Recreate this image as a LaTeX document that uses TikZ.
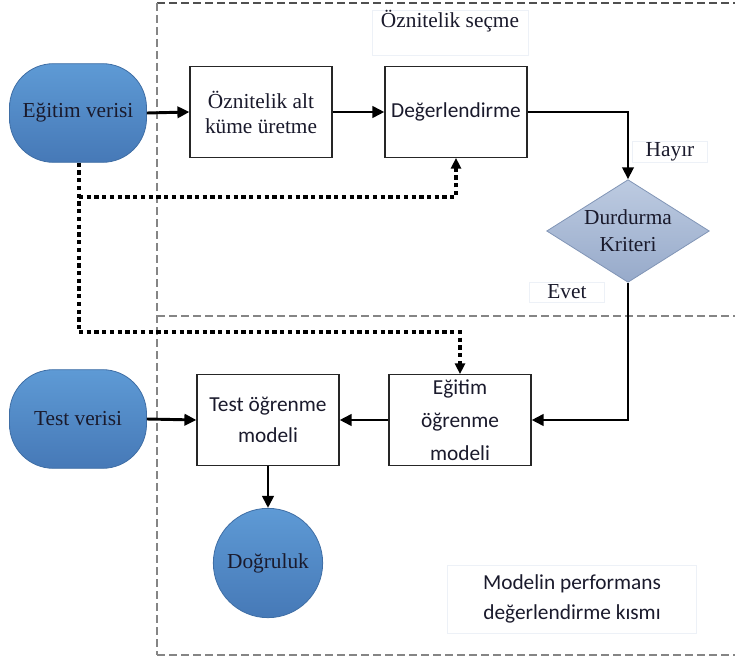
\documentclass[tikz,border=0pt]{standalone}
\usepackage{fontspec}
\setmainfont{Liberation Serif}
\newfontfamily\calfont{Carlito}
\newfontfamily\timesfont{Liberation Serif}
\usetikzlibrary{arrows.meta,shapes.geometric,shadows}
\definecolor{frameGray}{HTML}{858585}
\definecolor{frameDark}{HTML}{505050}
\definecolor{dataTop}{HTML}{5E9AD5}
\definecolor{dataBot}{HTML}{4679B7}
\definecolor{dataLine}{HTML}{3F6EA5}
\definecolor{diaTop}{HTML}{BDCBE1}
\definecolor{diaBot}{HTML}{97AACA}
\definecolor{diaLine}{HTML}{8195B6}
\definecolor{txt}{HTML}{1A1A2C}
\definecolor{capEdge}{HTML}{EDF1F7}
\tikzset{
  frame/.style={draw=frameGray, line width=1.2pt, dash pattern=on 6pt off 3pt},
  databox/.style={draw=dataLine, line width=0.6pt, rounded corners=33pt,
    top color=dataTop, bottom color=dataBot, minimum width=102.75pt,
    minimum height=74pt, text=txt},
  procbox/.style={draw=black!85, line width=0.9pt, fill=white,
    minimum width=106.5pt, minimum height=68pt, align=center, text=txt},
  serif/.style={font=\timesfont\fontsize{16}{19}\selectfont},
  sans/.style={font=\calfont\fontsize{16}{23.5}\selectfont},
  labelbox/.style={fill=white, draw=capEdge, line width=0.4pt,
    drop shadow={shadow xshift=0.5pt, shadow yshift=-0.5pt,
    opacity=0.07, fill=blue!40!gray}, text=txt, align=center},
  flow/.style={line width=2.2pt, -{Triangle[length=9pt,width=8.5pt]}},
  dotflow/.style={line width=2.4pt, dash pattern=on 3.2pt off 2.6pt,
    -{Triangle[length=8pt,width=7.5pt]}},
  dotline/.style={line width=2.4pt, dash pattern=on 3.2pt off 2.6pt},
}
\begin{document}
\begin{tikzpicture}[x=0.75pt,y=-0.75pt]
\useasboundingbox (0,0) rectangle (735,663);

% dashed section frames
\draw[frame, draw=frameDark] (157,3) -- (735,3);
\draw[frame] (157,3) -- (157,655);
\draw[frame] (157,316) -- (735,316);
\draw[frame] (157,655) -- (735,655);

% section captions
\node[labelbox, serif, anchor=north, minimum width=117pt, text height=11pt,
  text depth=19pt, inner ysep=2pt] (secCap) at (450,10) {Öznitelik seçme};
\node[labelbox, font=\calfont\fontsize{16}{22.5}\selectfont,
  minimum width=187pt, minimum height=51pt] (perfCap) at (572,599)
  {Modelin performans\\değerlendirme kısmı};

% data sources and result
\node[databox, serif] (train) at (78,113) {Eğitim verisi};
\node[databox, serif] (test) at (78,419) {Test verisi};
\node[circle, draw=dataLine, line width=0.6pt, top color=dataTop, bottom color=dataBot,
  minimum size=82pt, inner sep=0pt, serif, text=txt] (acc) at (268,563) {Doğruluk};

% process boxes
\node[procbox, font=\timesfont\fontsize{16}{18.75}\selectfont] (subset) at (261,112) {Öznitelik alt\\küme üretme};
\node[procbox, sans] (evalb) at (456,112) {Değerlendirme};
\node[procbox, font=\calfont\fontsize{16}{24.75}\selectfont] (trainModel) at (460,420) {Eğitim\\öğrenme\\modeli};
\node[procbox, sans] (testModel) at (268,420) {Test öğrenme\\modeli};

% decision
\node[diamond, draw=diaLine, line width=0.6pt, top color=diaTop, bottom color=diaBot,
  minimum width=122pt, minimum height=77pt, aspect=1.6, inner sep=0pt,
  align=center, font=\timesfont\fontsize{16}{20}\selectfont, text=txt] (stop) at (628,231) {Durdurma\\Kriteri};

% branch labels
\node[labelbox, serif, minimum width=56pt, minimum height=15pt, inner ysep=1pt] (noLbl) at (670,152) {Hayır};
\node[labelbox, serif, minimum width=56pt, minimum height=15pt, inner ysep=1pt] (yesLbl) at (567,292) {Evet};

% solid connectors
\draw[flow] (train.east) -- (subset.west);
\draw[flow] (subset.east) -- (evalb.west);
\draw[flow] (evalb.east) -| (stop.north);
\draw[flow] (stop.south) |- (trainModel.east);
\draw[flow] (trainModel.west) -- (testModel.east);
\draw[flow] (test.east) -- (testModel.west);
\draw[flow] (testModel.south) -- (acc.north);

% dotted data paths
\coordinate (tap) at (79,197);
\coordinate (corner) at (79,332);
\draw[dotline] (train.south -| tap) -- (corner);
\draw[dotflow] (tap) -- (evalb.south |- tap) -- (evalb.south);
\draw[dotflow] (corner) -- (trainModel.north |- corner) -- (trainModel.north);
\end{tikzpicture}
\end{document}
